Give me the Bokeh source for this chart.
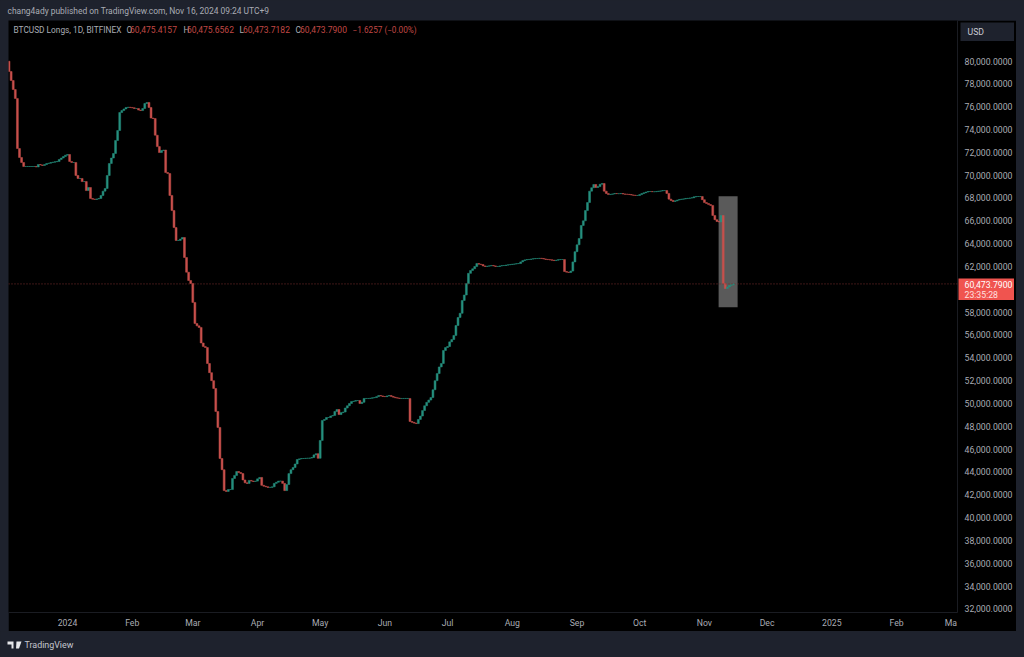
from bokeh.plotting import figure
from bokeh.embed import file_html
from bokeh.resources import INLINE
from bokeh.core.properties import value
from bokeh.models import (Label, Span, FixedTicker, NumeralTickFormatter, Range1d, ColumnDataSource)

# ---------- data ----------
first_day = -28  # days relative to 2024-01-01
closes_k = [
 79.08,78.29,77.5,76.72,72.33,71.55,71.11,70.76,70.76,70.76,70.76,70.76,70.76,70.72,70.93,70.9,70.85,70.93,71.02,71.05,
 71.11,71.14,71.18,71.2,71.37,71.5,71.63,71.75,71.81,71.2,71.11,71.11,69.97,69.71,69.71,69.44,69.44,68.65,68.92,67.96,
 67.9,67.87,67.92,67.96,68.22,68.6,68.83,69.97,71.02,71.5,71.9,73.04,73.91,75.49,75.66,75.8,75.93,75.95,75.93,75.9,
 75.84,75.84,75.7,75.66,75.84,76.28,76.37,75.93,75.0,74.96,73.5,72.5,71.98,72.16,72.2,70.23,70.14,68.22,66.9,65.41,
 64.28,64.28,64.4,64.54,62.79,61.5,60.77,60.51,58.85,57.0,56.8,56.66,55.3,55.0,54.9,53.5,52.7,52.0,51.31,49.3,
 47.9,45.18,44.2,42.37,42.3,42.46,42.46,43.43,43.7,44.04,43.95,43.86,43.3,43.05,43.0,43.26,43.2,43.17,43.2,43.4,
 43.52,42.83,42.75,42.7,42.65,42.65,42.7,43.0,43.1,43.2,43.2,43.0,42.37,42.9,43.86,44.2,44.39,44.7,45.09,45.15,
 45.18,45.18,45.2,45.2,45.22,45.27,45.5,45.6,45.2,46.76,48.51,48.6,48.77,48.77,48.9,48.95,49.3,49.47,49.03,
 49.2,49.25,49.6,49.8,50.0,50.17,50.2,50.26,50.26,50.0,50.1,50.44,50.44,50.44,50.46,50.5,50.52,50.6,50.7,50.66,
 50.61,50.6,50.66,50.7,50.62,50.55,50.5,50.47,50.44,50.44,50.44,50.44,50.44,48.42,48.35,48.28,48.24,48.6,48.9,49.38,
 49.8,50.1,50.3,50.52,51.2,52.0,52.62,53.2,53.5,54.64,54.9,54.99,55.4,55.6,55.96,56.83,57.53,57.9,59.02,59.5,
 60.5,61.4,61.65,61.8,62.0,62.26,62.2,62.17,62.05,62.0,62.03,62.06,62.09,62.05,62.0,62.0,62.05,62.08,62.09,62.12,
 62.15,62.17,62.2,62.22,62.25,62.26,62.4,62.52,62.58,62.61,62.62,62.65,62.68,62.7,62.7,62.72,62.7,62.66,62.62,62.6,
 62.58,62.55,62.52,62.55,62.6,62.61,62.61,61.56,61.5,61.47,61.6,62.4,63.3,63.9,64.45,65.59,66.0,66.9,67.6,68.6,
 68.9,69.18,68.92,69.0,69.2,69.27,68.6,68.4,68.3,68.32,68.36,68.39,68.38,68.38,68.39,68.35,68.33,68.32,68.3,
 68.26,68.24,68.22,68.22,68.3,68.39,68.46,68.52,68.57,68.57,68.55,68.55,68.57,68.6,68.62,68.65,68.65,68.4,67.9,67.78,
 67.7,67.75,67.82,67.87,67.9,67.92,67.96,67.97,68.0,68.02,68.1,68.13,68.13,68.13,67.85,67.6,67.52,67.42,67.35,66.47,
 66.1,65.94,65.9,66.47,60.51,60.07,60.2,60.35,60.4,60.4738,
]
last_price = 60473.79
price_ticks = list(range(32000, 82000, 2000))
month_days = [0, 31, 60, 91, 121, 152, 182, 213, 244, 274, 305, 335, 366, 397, 423]
month_labels = ["2024", "Feb", "Mar", "Apr", "May", "Jun", "Jul", "Aug", "Sep", "Oct", "Nov", "Dec", "2025", "Feb", "Ma"]
highlight_days = (311.8, 320.9)
highlight_prices = (58430, 68160)

# ---------- styles ----------
OUTER = "#1e222d"
BLACK = "#000000"
SEP = "#1a1c22"
TXT = "#a9acb4"
UP = "#26907f"
DOWN = "#c8504c"
RED = "#c04845"
FONT = "Roboto"


def place(fig, left, top):
    fig.styles = {"position": "absolute", "left": f"{left}px", "top": f"{top}px"}
    return fig


# ---------- main chart: page box (8,20)-(1016,631) ----------
closes = [v * 1000 for v in closes_k]
days = [first_day + i for i in range(len(closes))]
opens = [closes[0] + 900] + closes[:-1]
colors = [UP if c >= o else DOWN for o, c in zip(opens, closes)]
src = ColumnDataSource(dict(day=days, open=opens, close=closes, color=colors))

p = figure(width=1008, height=611, output_backend="svg", toolbar_location=None,
           y_axis_location="right",
           x_range=Range1d(-28.26, 426.2), y_range=Range1d(31690, 83548),
           min_border_left=0, min_border_right=59, min_border_top=0, min_border_bottom=19,
           background_fill_color=BLACK, border_fill_color=BLACK, outline_line_color=None)
p.grid.visible = False
place(p, 8, 20)

p.yaxis.ticker = FixedTicker(ticks=price_ticks)
p.yaxis.formatter = NumeralTickFormatter(format="0,0.0000")
p.xaxis.ticker = FixedTicker(ticks=month_days)
p.xaxis.major_label_overrides = {d: s for d, s in zip(month_days, month_labels)}
for ax in (p.xaxis[0], p.yaxis[0]):
    ax.axis_line_color = SEP
    ax.major_tick_line_color = None
    ax.minor_tick_line_color = None
    ax.major_tick_out = 0
    ax.major_tick_in = 0
    ax.major_label_text_color = TXT
    ax.major_label_text_font = FONT
    ax.major_label_text_font_size = "8.7px"
p.yaxis.major_label_standoff = 7
p.xaxis.major_label_standoff = 5

p.quad(left=highlight_days[0], right=highlight_days[1],
       bottom=highlight_prices[0], top=highlight_prices[1], fill_color="#5a5a5a", line_color=None)
p.add_layout(Span(location=last_price, dimension="width", line_color="#7a2e2c",
                  line_dash="1 2", line_width=1))
p.vbar(x="day", top="close", bottom="open", width=0.9, fill_color="color", line_color="color",
       line_width=0.5, source=src)


def legend_text(px, s, color=TXT, size=8.3):
    p.add_layout(Label(x=px - 8, y=9, x_units="canvas", y_units="canvas", text=s,
                       text_color=color, text_font_size=f"{size}px", text_font=FONT,
                       text_baseline="middle"))


legend_text(13, "BTCUSD Longs, 1D, BITFINEX")
for x_l, letter, x_v, val in [(126, "O", 129.5, "60,475.4157"), (183, "H", 186.5, "60,475.6562"),
                              (239, "L", 242.5, "60,473.7182"), (295, "C", 299.5, "60,473.7900")]:
    legend_text(x_l, letter)
    legend_text(x_v, val, color=RED, size=8.5)
legend_text(352, "\u22121.6257 (\u22120.00%)", color=RED, size=8.2)


# ---------- small parts outside the plot frame, in their own pixel-sized figures ----------
def panel(left, top, w, h, bg):
    f = figure(width=w, height=h, output_backend="svg", toolbar_location=None,
               x_range=Range1d(0, w), y_range=Range1d(h, 0),
               x_axis_location=None, y_axis_location=None,
               min_border_left=0, min_border_right=0, min_border_top=0, min_border_bottom=0,
               background_fill_color=bg, border_fill_color=bg, outline_line_color=None)
    f.grid.visible = False
    return place(f, left, top)


def put(f, x, y, s, color, size):
    f.text(x=[x], y=[y], text=[s], text_color=color, text_font=value(FONT),
           text_font_size=f"{size}px", text_baseline="middle", text_align="left")


top_bar = panel(0, 0, 1024, 20, OUTER)
put(top_bar, 7, 10.5, "chang4ady published on TradingView.com, Nov 16, 2024 09:24 UTC+9", TXT, 8.45)

foot = panel(0, 631, 1024, 26, OUTER)
foot.patch([7, 13, 13, 11, 11, 7], [10, 10, 17, 17, 13, 13], color="#e6e7ea", line_color=None)
foot.patch([16, 21, 18.5, 15.5], [10, 10, 17, 17], color="#e6e7ea", line_color=None)
put(foot, 24, 13.5, "TradingView", "#c4c6cd", 8.9)

usd = panel(960, 22, 54, 19, "#1e222d")
put(usd, 7, 9.5, "USD", "#c8cad2", 8.7)

tag = panel(958, 278, 56, 22, "#f0544f")
put(tag, 6, 6, "60,473.7900", "#ffffff", 8.7)
put(tag, 6, 16, "23:35:28", "#ffe1e0", 8.7)

html = file_html([p, top_bar, foot, usd, tag], INLINE)
html = html.replace("<head>", f"<head><style>html,body{{background:{OUTER}}}</style>", 1)
open("out.html", "w").write(html)
